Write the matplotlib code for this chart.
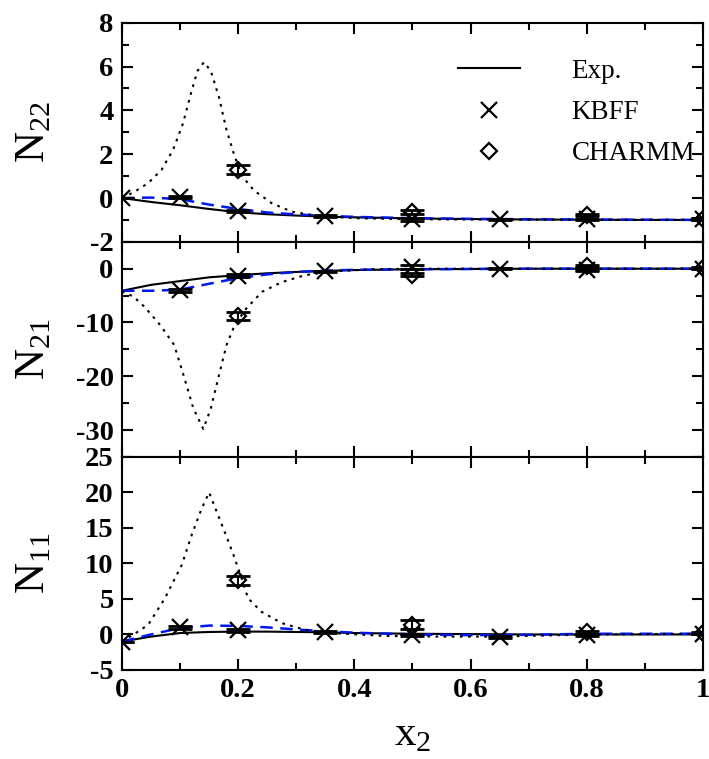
import matplotlib
matplotlib.use("Agg")
import matplotlib.pyplot as plt
import numpy as np
from matplotlib.ticker import MultipleLocator, FuncFormatter

plt.rcParams["font.family"] = "Liberation Serif"
plt.rcParams["mathtext.fontset"] = "custom"
plt.rcParams["mathtext.rm"] = "Liberation Serif"
plt.rcParams["axes.unicode_minus"] = False

# simulation points
x_kbff = [0.0, 0.1, 0.2, 0.35, 0.5, 0.65, 0.8, 1.0]
x_charmm = [0.2, 0.5, 0.8, 1.0]

kbff_n22 = [0.0, 0.05, -0.6, -0.82, -0.98, -0.98, -0.98, -0.96]
kbff_n22_err = [0.0, 0.05, 0.06, 0.05, 0.08, 0.03, 0.03, 0.03]
charmm_n22 = [1.3, -0.65, -0.78, -0.95]
charmm_n22_err = [0.2, 0.1, 0.05, 0.05]

kbff_n21 = [np.nan, -4.0, -1.3, -0.5, 0.3, 0.0, -0.3, 0.0]
kbff_n21_err = [0.0, 0.3, 0.3, 0.1, 0.3, 0.1, 0.1, 0.1]
charmm_n21 = [-8.8, -1.1, 0.5, 0.2]
charmm_n21_err = [0.7, 0.3, 0.2, 0.2]

kbff_n11 = [-1.0, 1.0, 0.6, 0.3, -0.1, -0.3, -0.1, 0.1]
kbff_n11_err = [0.0, 0.2, 0.2, 0.15, 0.1, 0.15, 0.1, 0.1]
charmm_n11 = [7.6, 1.4, 0.3, 0.2]
charmm_n11_err = [0.7, 0.6, 0.2, 0.2]

# experimental (solid) and KBFF-fit (blue dashed) curves
x_curve = [0, 0.05, 0.1, 0.15, 0.2, 0.25, 0.3, 0.35, 0.4, 0.5, 0.6, 0.7, 0.8, 0.9, 1.0]
exp_n22 = [0, -0.18, -0.33, -0.5, -0.65, -0.74, -0.8, -0.85, -0.88, -0.93, -0.96, -0.98, -0.99, -1.0, -1.0]
fit_n22 = [0, 0.02, -0.05, -0.3, -0.5, -0.66, -0.75, -0.81, -0.86, -0.92, -0.95, -0.97, -0.98, -0.99, -1.0]
exp_n21 = [-4.1, -3.0, -2.3, -1.6, -1.2, -0.85, -0.6, -0.4, -0.25, -0.1, -0.05, 0.0, 0.0, 0.0, 0.0]
fit_n21 = [-4.1, -4.1, -3.9, -2.8, -1.75, -1.05, -0.6, -0.35, -0.2, -0.1, -0.05, 0.0, 0.0, 0.0, 0.0]
exp_n11 = [-1.0, -0.3, 0.2, 0.35, 0.4, 0.4, 0.35, 0.3, 0.2, 0.1, 0.05, 0.0, 0.0, 0.0, 0.0]
fit_n11 = [-1.0, 0.0, 0.9, 1.25, 1.2, 1.0, 0.7, 0.45, 0.25, 0.0, -0.1, -0.05, 0.1, 0.1, 0.1]

# CHARMM-fit (dotted) curves
x_dot22 = [0, 0.022, 0.045, 0.068, 0.088, 0.105, 0.12, 0.13, 0.141, 0.153, 0.167, 0.18,
           0.194, 0.207, 0.227, 0.258, 0.292, 0.332, 0.4, 0.5, 0.6, 0.8, 1.0]
dot_n22 = [0, 0.29, 0.68, 1.28, 2.2, 3.4, 4.9, 5.8, 6.2, 5.8, 4.6, 3.1,
           1.9, 1.0, 0.35, -0.24, -0.62, -0.8, -0.92, -0.97, -0.98, -0.99, -1.0]
x_dot21 = [0, 0.02, 0.039, 0.066, 0.09, 0.106, 0.123, 0.14, 0.153, 0.167, 0.18, 0.194,
           0.214, 0.241, 0.275, 0.315, 0.362, 0.43, 0.5, 0.6, 0.8, 1.0]
dot_n21 = [-4.2, -5.2, -7.1, -10.5, -14.2, -19.8, -26, -29.8, -26, -19.8, -14.2, -10.5,
           -7.4, -4.3, -2.5, -1.2, -0.5, -0.1, 0.0, 0.0, 0.0, 0.0]
x_dot11 = [0, 0.02, 0.045, 0.074, 0.103, 0.12, 0.137, 0.15, 0.177, 0.192, 0.206, 0.217,
           0.24, 0.275, 0.315, 0.375, 0.45, 0.55, 0.65, 0.8, 0.9, 1.0]
dot_n11 = [-1.0, 0.0, 1.35, 5.1, 9.8, 14, 17.7, 20.0, 14.4, 11.2, 7.9, 5.1,
           3.2, 1.6, 0.65, 0.14, -0.2, -0.3, -0.3, 0.0, 0.05, 0.1]

panels = [
    (r"$\mathrm{N}_{22}$", (-2, 8), 2, 1, exp_n22, fit_n22, x_dot22, dot_n22,
     kbff_n22, kbff_n22_err, charmm_n22, charmm_n22_err),
    (r"$\mathrm{N}_{21}$", (-35, 5), 10, 5, exp_n21, fit_n21, x_dot21, dot_n21,
     kbff_n21, kbff_n21_err, charmm_n21, charmm_n21_err),
    (r"$\mathrm{N}_{11}$", (-5, 25), 5, 5, exp_n11, fit_n11, x_dot11, dot_n11,
     kbff_n11, kbff_n11_err, charmm_n11, charmm_n11_err),
]

fig, axes = plt.subplots(3, 1, figsize=(7.09, 7.59), dpi=100, sharex=True,
                         gridspec_kw={"height_ratios": [219, 215, 213]})
fig.subplots_adjust(left=0.172, right=0.9915, top=0.970, bottom=0.1173, hspace=0)

for ax, (lab, ylim, major, minor, ye, yf, xd, yd, yk, ek, yc, ec) in zip(axes, panels):
    ax.plot(x_curve, ye, color="black", lw=1.5, label="Exp.")
    ax.plot(x_curve, yf, color="#0018f0", lw=1.8, ls=(0, (5, 3)))
    ax.plot(xd, yd, color="black", lw=1.5, ls=(0, (1.3, 2.6)))

    ax.errorbar(x_kbff, yk, yerr=ek, fmt="none", ecolor="black", elinewidth=1.5,
                capsize=8.5, capthick=2)
    ax.errorbar(x_charmm, yc, yerr=ec, fmt="none", ecolor="black", elinewidth=1.5,
                capsize=8.5, capthick=2)
    ax.plot(x_kbff, yk, ls="none", marker="x", ms=11, mew=1.6, color="black", label="KBFF")
    ax.plot(x_charmm, yc, ls="none", marker="D", ms=8.5, mew=1.6, mfc="none", mec="black",
            label="CHARMM")

    ax.set_xlim(0, 1)
    ax.set_ylim(*ylim)
    ax.yaxis.set_major_locator(MultipleLocator(major))
    ax.yaxis.set_minor_locator(MultipleLocator(minor))
    ax.xaxis.set_major_locator(MultipleLocator(0.2))
    ax.xaxis.set_minor_locator(MultipleLocator(0.1))
    ax.tick_params(which="both", direction="in", top=True, right=True, width=1.5)
    ax.tick_params(which="major", length=8, labelsize=20.5, pad=6)
    ax.tick_params(which="minor", length=5)
    for t in ax.get_yticklabels():
        t.set_fontweight("bold")
    for s in ax.spines.values():
        s.set_linewidth(1.5)
    ax.set_ylabel(lab, fontsize=31, labelpad=16)

axes[2].xaxis.set_major_formatter(FuncFormatter(lambda v, _: f"{v:g}"))
for t in axes[2].get_xticklabels():
    t.set_fontweight("bold")
axes[2].set_xlabel(r"$\mathrm{x}_{2}$", fontsize=31, labelpad=9)
fig.align_ylabels(axes)

axes[0].legend(loc="upper right", bbox_to_anchor=(1.005, 0.885), frameon=False, fontsize=19.5,
               handlelength=2.3, handletextpad=1.9, labelspacing=0.6, borderaxespad=0.0)

fig.savefig("out.png", dpi=100)
